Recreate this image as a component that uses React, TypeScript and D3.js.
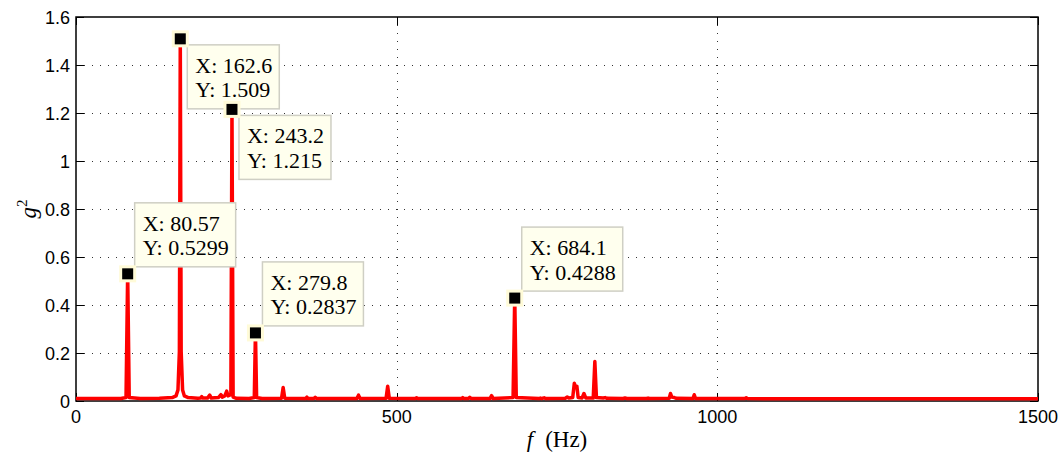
import React, { useEffect, useRef } from "react";
import * as d3 from "d3";

// Spectrum samples
const freqHz: number[] = [
  0, 70, 78, 80.57, 83, 100, 130, 150, 156, 159, 161.2, 162.6, 164, 166.2, 169, 175,
  190, 194, 196, 198, 205, 208.5, 211, 222, 226, 228, 232, 235, 237, 241.5, 243.2, 245,
  250, 270, 278, 279.8, 281.6, 290, 320.5, 323, 325.5, 358, 360, 362, 371, 373, 375,
  420, 438, 440.5, 443, 483.5, 486, 488.5, 529, 531, 533, 575, 601, 603, 605, 612, 614,
  616, 645.5, 648, 650.5, 681.5, 684.1, 686.5, 722, 724, 726, 730, 732, 763, 766, 769,
  774.5, 777, 779, 781, 783, 789, 792, 795, 806.5, 809, 811.5, 822, 825, 828, 853, 856,
  859, 890, 892, 894, 925, 927, 929, 933, 936, 962, 964, 966, 1000, 1043, 1045, 1047,
  1100, 1500,
];
const gValue: number[] = [
  0.004, 0.004, 0.008, 0.5299, 0.008, 0.004, 0.005, 0.008, 0.015, 0.04, 0.2, 1.509, 0.2, 0.04, 0.015, 0.008,
  0.005, 0.006, 0.012, 0.006, 0.006, 0.018, 0.006, 0.008, 0.02, 0.01, 0.015, 0.035, 0.015, 0.02, 1.215, 0.01,
  0.005, 0.004, 0.008, 0.2837, 0.008, 0.004, 0.005, 0.05, 0.005, 0.004, 0.01, 0.004, 0.004, 0.009, 0.004,
  0.004, 0.004, 0.018, 0.004, 0.005, 0.055, 0.005, 0.004, 0.007, 0.004, 0.004, 0.004, 0.008, 0.004, 0.004, 0.009,
  0.004, 0.004, 0.016, 0.004, 0.008, 0.4288, 0.008, 0.004, 0.006, 0.004, 0.007, 0.004, 0.005, 0.01, 0.006,
  0.008, 0.068, 0.05, 0.055, 0.008, 0.006, 0.025, 0.006, 0.006, 0.158, 0.008, 0.006, 0.008, 0.005, 0.004, 0.006,
  0.004, 0.004, 0.006, 0.004, 0.005, 0.025, 0.01, 0.008, 0.005, 0.004, 0.02, 0.004, 0.004, 0.004, 0.007, 0.004,
  0.003, 0.003,
];

// Data tips
const tipX: number[] = [162.6, 243.2, 80.57, 279.8, 684.1];
const tipY: number[] = [1.509, 1.215, 0.5299, 0.2837, 0.4288];
const tipXText: string[] = ["162.6", "243.2", "80.57", "279.8", "684.1"];
const tipYText: string[] = ["1.509", "1.215", "0.5299", "0.2837", "0.4288"];
const tipBelow: boolean[] = [true, true, false, false, false];

const xTicks: number[] = [0, 500, 1000, 1500];
const yTicks: number[] = [0, 0.2, 0.4, 0.6, 0.8, 1, 1.2, 1.4, 1.6];

export default function App() {
  const ref = useRef<SVGSVGElement>(null);

  useEffect(() => {
    const svg = d3.select(ref.current!);
    svg.selectAll("*").remove();

    const W = 1059, H = 458;
    const left = 76, right = 1038, top = 17, bottom = 401;
    const x = d3.scaleLinear().domain([0, 1500]).range([left, right]);
    const y = d3.scaleLinear().domain([0, 1.6]).range([bottom, top]);

    svg.append("rect").attr("width", W).attr("height", H).attr("fill", "#fff");

    // grid
    const grid = svg.append("g").attr("stroke", "#333").attr("stroke-width", 1).attr("stroke-dasharray", "1,7");
    yTicks.slice(1, -1).forEach((t) => {
      grid.append("line").attr("x1", left).attr("x2", right).attr("y1", Math.round(y(t)) + 0.5).attr("y2", Math.round(y(t)) + 0.5);
    });
    xTicks.slice(1, -1).forEach((t) => {
      grid.append("line").attr("x1", Math.round(x(t)) + 0.5).attr("x2", Math.round(x(t)) + 0.5).attr("y1", top).attr("y2", bottom);
    });

    // axes box and ticks
    const ax = svg.append("g").attr("stroke", "#000").attr("fill", "none");
    ax.append("rect").attr("x", left).attr("y", top).attr("width", right - left).attr("height", bottom - top).attr("stroke-width", 1.5);
    const tl = 8;
    yTicks.forEach((t) => {
      const yy = Math.round(y(t)) + 0.5;
      ax.append("line").attr("x1", left).attr("x2", left + tl).attr("y1", yy).attr("y2", yy);
      ax.append("line").attr("x1", right - tl).attr("x2", right).attr("y1", yy).attr("y2", yy);
    });
    xTicks.forEach((t) => {
      const xx = Math.round(x(t)) + 0.5;
      ax.append("line").attr("x1", xx).attr("x2", xx).attr("y1", bottom).attr("y2", bottom - tl);
      ax.append("line").attr("x1", xx).attr("x2", xx).attr("y1", top).attr("y2", top + tl);
    });

    const tickFont = "'Liberation Sans', Arial, sans-serif";
    yTicks.forEach((t) => {
      svg.append("text").attr("x", 70).attr("y", y(t) + 6.5).attr("text-anchor", "end")
        .attr("font-family", tickFont).attr("font-size", 18).attr("fill", "#000")
        .text(d3.format("~g")(t));
    });
    xTicks.forEach((t) => {
      svg.append("text").attr("x", x(t)).attr("y", 423).attr("text-anchor", "middle")
        .attr("font-family", tickFont).attr("font-size", 18).attr("fill", "#000")
        .text(String(t));
    });

    // axis labels
    const serif = "'Liberation Serif', 'DejaVu Serif', serif";
    const xl = svg.append("text").attr("x", 557).attr("y", 447).attr("text-anchor", "middle")
      .attr("font-family", serif).attr("font-size", 23).attr("fill", "#000");
    xl.append("tspan").attr("font-style", "italic").text("f");
    xl.append("tspan").attr("dx", 12).text("(Hz)");

    const yl = svg.append("text").attr("transform", "translate(36,209) rotate(-90)").attr("text-anchor", "middle")
      .attr("font-family", serif).attr("font-size", 23).attr("fill", "#000");
    yl.append("tspan").attr("font-style", "italic").text("g");
    yl.append("tspan").attr("font-size", 15).attr("dy", -9).text("2");

    // spectrum line
    const pts: [number, number][] = freqHz.map((f, i) => [f, gValue[i]]);
    const line = d3.line<[number, number]>().x((d) => x(d[0])).y((d) => y(d[1]) - 1.5);
    svg.append("path").attr("d", line(pts)!).attr("fill", "none").attr("stroke", "#ff0000")
      .attr("stroke-width", 3.5).attr("stroke-linejoin", "round").attr("stroke-linecap", "butt");

    // data tips
    tipX.forEach((tx, i) => {
      const mx = x(tx), my = y(tipY[i]);
      const g = svg.append("g");
      const box = g.append("rect").attr("fill", "#ffffee").attr("stroke", "#cfcfc4").attr("stroke-width", 1.5);
      const texts = g.append("g").attr("font-family", serif).attr("font-size", 22).attr("fill", "#000");
      const t1 = texts.append("text").text("X: " + tipXText[i]);
      const t2 = texts.append("text").text("Y: " + tipYText[i]);
      const w1 = (t1.node() as SVGTextElement).getComputedTextLength();
      const w2 = (t2.node() as SVGTextElement).getComputedTextLength();
      const bw = Math.max(w1, w2) + 15;
      const bh = 64;
      const bx = mx + 7;
      const by = tipBelow[i] ? my + 6 : my - 7 - bh;
      box.attr("x", bx).attr("y", by).attr("width", bw).attr("height", bh);
      t1.attr("x", bx + 8).attr("y", by + 28);
      t2.attr("x", bx + 8).attr("y", by + 52.5);
      svg.append("rect").attr("x", mx - 8.5).attr("y", my - 8.5).attr("width", 17).attr("height", 17).attr("fill", "#fffbd8");
      svg.append("rect").attr("x", mx - 5.5).attr("y", my - 5.5).attr("width", 11).attr("height", 11).attr("fill", "#000");
    });
  }, []);

  return (
    <svg ref={ref} width={1059} height={458} style={{ position: "absolute", left: 0, top: 0, display: "block" }} />
  );
}
